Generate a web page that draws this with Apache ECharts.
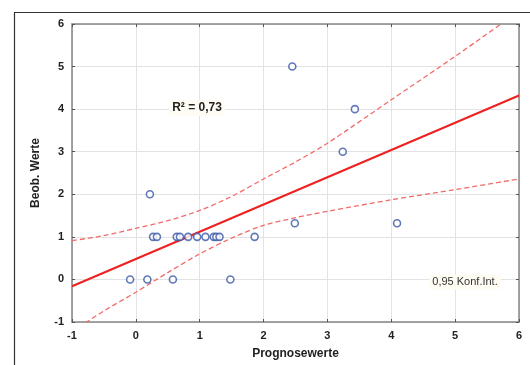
<!DOCTYPE html>
<html><head><meta charset="utf-8">
<script src="https://cdn.jsdelivr.net/npm/echarts@6/dist/echarts.min.js"></script>
<style>html,body{margin:0;padding:0;background:#fff}#c{width:530px;height:365px}</style>
</head><body><div id="c"></div>
<script>
// Observed points
const prognose = [-0.09, 0.18, 0.58, 1.48, 0.22, 0.27, 0.33, 0.64, 0.69, 0.82, 0.96, 1.09, 1.22, 1.26, 1.31, 1.86, 2.45, 3.43, 3.24, 2.49, 4.09];
const beob     = [0, 0, 0, 0, 2, 1, 1, 1, 1, 1, 1, 1, 1, 1, 1, 1, 5, 4, 3, 1.32, 1.32];
// Regression line (read at ends)
const regX = [-1, 6];
const regY = [-0.16, 4.32];
// 0.95 confidence band
const bandX = [-1, -0.5, 0, 0.5, 1, 1.5, 2, 2.5, 3, 4, 5, 6];
const upperY = [0.91, 1.03, 1.20, 1.38, 1.62, 1.95, 2.36, 2.76, 3.20, 4.22, 5.24, 6.3];
const lowerY = [-1.23, -0.74, -0.30, 0.16, 0.60, 0.97, 1.27, 1.45, 1.60, 1.87, 2.11, 2.36];
const xTicks = [-1, 0, 1, 2, 3, 4, 5, 6];
const yTicks = [-1, 0, 1, 2, 3, 4, 5, 6];

const zip = (a, b) => a.map((v, i) => [v, b[i]]);
const font = '"Liberation Sans", Arial, sans-serif';
const chart = echarts.init(document.getElementById('c'), null, {renderer: 'canvas'});
const frameLine = {show: true, onZero: false, lineStyle: {color: '#858585', width: 1.5}};
const tick = {show: true, inside: true, length: 3, lineStyle: {color: '#555'}};
chart.setOption({
  animation: false,
  backgroundColor: '#fff',
  grid: {left: 72, top: 24, right: 11, bottom: 42, containLabel: false},
  xAxis: [{
    type: 'value', min: xTicks[0], max: xTicks[xTicks.length - 1], interval: 1,
    axisLine: frameLine, axisTick: tick,
    axisLabel: {color: '#222', fontFamily: font, fontWeight: 'bold', fontSize: 11, margin: 8},
    splitLine: {show: true, lineStyle: {color: '#e3e3e3', width: 1}},
    name: 'Prognosewerte', nameLocation: 'middle', nameGap: 26,
    nameTextStyle: {color: '#222', fontFamily: font, fontWeight: 'bold', fontSize: 12}
  }, {
    type: 'value', position: 'top', min: xTicks[0], max: xTicks[xTicks.length - 1], interval: 1,
    axisLine: frameLine, axisTick: tick,
    axisLabel: {show: false}, splitLine: {show: false}
  }],
  yAxis: [{
    type: 'value', min: yTicks[0], max: yTicks[yTicks.length - 1], interval: 1,
    axisLine: frameLine, axisTick: tick,
    axisLabel: {color: '#222', fontFamily: font, fontWeight: 'bold', fontSize: 11, margin: 8},
    splitLine: {show: true, lineStyle: {color: '#e3e3e3', width: 1}},
    name: 'Beob. Werte', nameLocation: 'middle', nameGap: 30, nameRotate: 90,
    nameTextStyle: {color: '#222', fontFamily: font, fontWeight: 'bold', fontSize: 12}
  }, {
    type: 'value', position: 'right', min: yTicks[0], max: yTicks[yTicks.length - 1], interval: 1,
    axisLine: frameLine, axisTick: tick,
    axisLabel: {show: false}, splitLine: {show: false}
  }],
  series: [
    {type: 'line', data: zip(bandX, upperY), smooth: 0.3, symbol: 'none', clip: true,
     lineStyle: {color: '#f26a6a', width: 1.3, type: [5, 3]}, z: 3},
    {type: 'line', data: zip(bandX, lowerY), smooth: 0.3, symbol: 'none', clip: true,
     lineStyle: {color: '#f26a6a', width: 1.3, type: [5, 3]}, z: 3},
    {type: 'line', data: zip(regX, regY), symbol: 'none', clip: true,
     lineStyle: {color: '#ee2020', width: 2}, z: 4},
    {type: 'scatter', data: zip(prognose, beob), symbol: 'circle', symbolSize: 7,
     itemStyle: {color: '#fff', borderColor: '#3a56a8', borderWidth: 1.6}, z: 5}
  ],
  graphic: [
    {type: 'rect', left: 12, top: 10, silent: true,
     shape: {x: 0.5, y: 0.5, width: 600, height: 400},
     style: {fill: 'none', stroke: '#333', lineWidth: 1.2}},
    {type: 'text', x: 197, y: 108, z: 10,
     style: {text: 'R² = 0,73', font: 'bold 12px ' + font, fill: '#222',
             align: 'center', verticalAlign: 'middle',
             backgroundColor: '#fffcf3', padding: [2, 3]}},
    {type: 'text', x: 465, y: 282, z: 10,
     style: {text: '0,95 Konf.Int.', font: '11px ' + font, fill: '#333',
             align: 'center', verticalAlign: 'middle',
             backgroundColor: '#fffcf3', padding: [2, 3]}}
  ]
});
</script></body></html>
